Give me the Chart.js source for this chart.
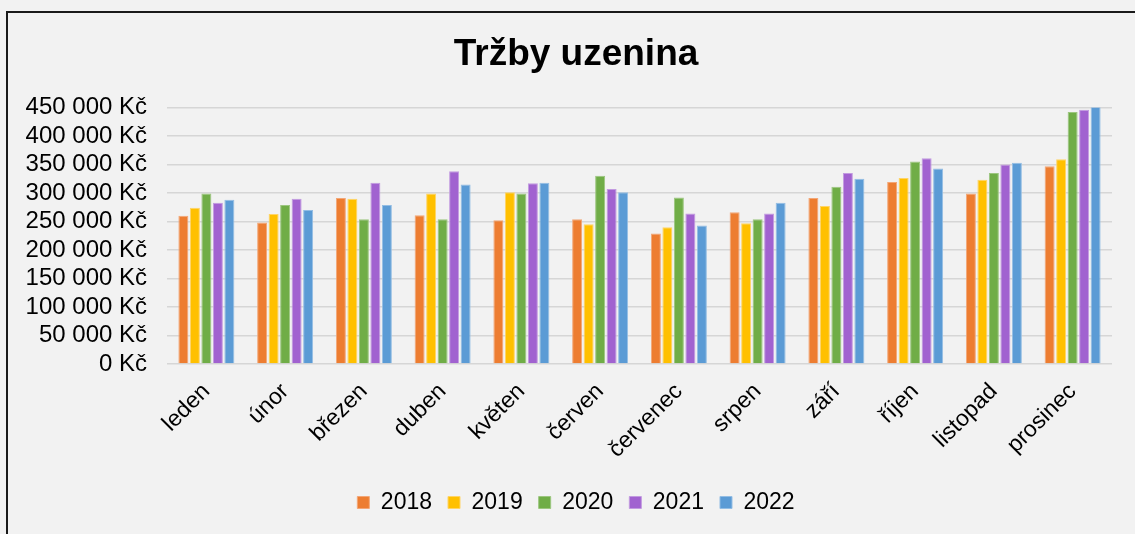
<!DOCTYPE html>
<html lang="cs">
<head>
<meta charset="utf-8">
<title>Tržby uzenina</title>
<script src="https://cdn.jsdelivr.net/npm/chart.js@4/dist/chart.umd.min.js"></script>
<style>
  html, body { margin: 0; padding: 0; background: #f2f2f2; }
  #wrap { position: relative; width: 1135px; height: 534px; overflow: hidden; }
  #frame {
    position: absolute; left: 6px; top: 11px; width: 1200px; height: 600px;
    border-top: 2px solid #1a1a1a; border-left: 2px solid #1a1a1a;
  }
  #chart { position: absolute; left: 0; top: 0; }
</style>
</head>
<body>
<div id="wrap">
  <div id="frame"></div>
  <canvas id="chart" width="1135" height="534"></canvas>
</div>
<script>
// Data
const mesice = ['leden', 'únor', 'březen', 'duben', 'květen', 'červen',
  'červenec', 'srpen', 'září', 'říjen', 'listopad', 'prosinec'];
const roky = ['2018', '2019', '2020', '2021', '2022'];

const trzby2018 = [260000, 248000, 291000, 261000, 252000, 254000, 229000, 266000, 291000, 319000, 299000, 347000];
const trzby2019 = [274000, 263000, 290000, 299000, 301000, 245000, 240000, 247000, 277000, 326000, 323000, 359000];
const trzby2020 = [299000, 279000, 254000, 254000, 299000, 330000, 292000, 254000, 311000, 355000, 335000, 442000];
const trzby2021 = [283000, 290000, 318000, 338000, 317000, 307000, 264000, 264000, 335000, 361000, 350000, 446000];
const trzby2022 = [288000, 270000, 279000, 315000, 318000, 301000, 243000, 283000, 325000, 343000, 353000, 451000];

const barvy = ['#ED7D31', '#FFC000', '#70AD47', '#A162D0', '#5B9BD5'];
const okraje = ['#F3A676', '#FFD466', '#9CC67F', '#C29AE0', '#93BDE4'];

const FONT = '"Liberation Sans", Arial, Helvetica, sans-serif';

// formatovani "450 000 Kč"
function formatKc(v) {
  return String(v).replace(/\B(?=(\d{3})+(?!\d))/g, ' ') + ' Kč';
}

const series = [trzby2018, trzby2019, trzby2020, trzby2021, trzby2022];

new Chart(document.getElementById('chart'), {
  type: 'bar',
  data: {
    labels: mesice,
    datasets: roky.map((rok, i) => ({
      label: rok,
      data: series[i],
      backgroundColor: barvy[i],
      borderColor: okraje[i],
      borderWidth: 1,
      categoryPercentage: 0.73,
      barPercentage: 0.87
    }))
  },
  options: {
    responsive: false,
    animation: false,
    layout: {
      padding: { top: 33, left: 17, right: 0, bottom: 10 }
    },
    plugins: {
      title: {
        display: true,
        text: 'Tržby uzenina',
        color: '#000',
        font: { family: FONT, size: 37, weight: 'bold', lineHeight: 1.2 },
        padding: { top: 0, bottom: 30 }
      },
      legend: {
        position: 'bottom',
        labels: {
          color: '#000',
          font: { family: FONT, size: 23 },
          boxWidth: 12,
          boxHeight: 12,
          padding: 16
        }
      },
      tooltip: { enabled: false }
    },
    scales: {
      x: {
        grid: { display: false, drawTicks: false },
        border: { display: false },
        ticks: {
          color: '#000',
          font: { family: FONT, size: 23 },
          maxRotation: 45,
          minRotation: 45,
          autoSkip: false,
          padding: 14
        },
        afterFit(axis) { axis.height = 111; }
      },
      y: {
        min: 0,
        max: 450000,
        grid: { color: '#d6d6d6', lineWidth: 1.5, drawTicks: false },
        border: { display: false },
        ticks: {
          stepSize: 50000,
          autoSkip: false,
          color: '#000',
          font: { family: FONT, size: 24 },
          padding: 20,
          callback: v => formatKc(v)
        },
        afterFit(axis) { axis.width = 150; }
      },
      // prazdna osa vpravo jen kvuli okraji
      y2: {
        position: 'right',
        grid: { display: false, drawTicks: false },
        border: { display: false },
        ticks: { display: false },
        afterFit(axis) { axis.width = 23; }
      }
    }
  }
});
</script>
</body>
</html>
